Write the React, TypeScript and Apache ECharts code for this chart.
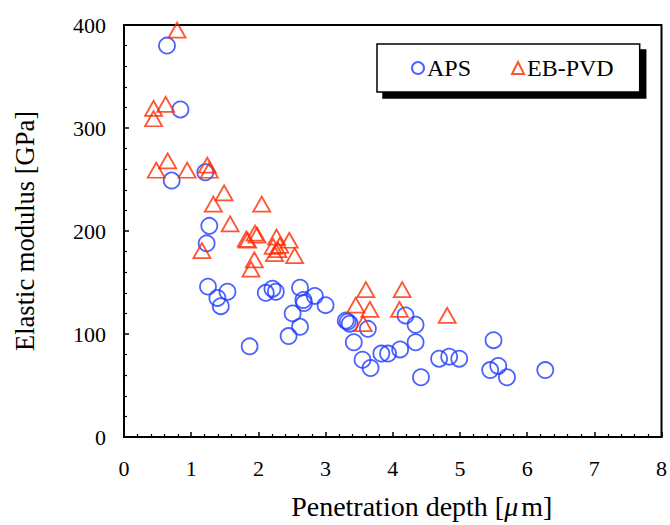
import React, { useEffect, useRef } from "react";
import * as echarts from "echarts";

const apsX = [0.64, 0.84, 0.71, 1.21, 1.27, 1.23, 1.25, 1.39, 1.54, 1.44, 1.87, 2.11, 2.21, 2.26, 2.62, 2.67, 2.68, 2.84, 3.0, 2.51, 2.62, 2.45, 3.3, 3.33, 3.36, 3.42, 3.63, 3.55, 3.67, 3.83, 3.93, 4.11, 4.34, 4.34, 4.19, 4.42, 4.69, 4.84, 4.99, 5.5, 5.45, 5.57, 5.7, 6.27];
const apsY = [380, 318, 249, 257, 205, 188, 146, 135, 141, 127, 88, 140, 144, 141, 145, 133, 130, 137, 128, 120, 107, 98, 113, 112, 110, 92, 105, 75, 67, 81, 81, 85, 92, 109, 118, 58, 76, 78, 76, 94, 65, 69, 58, 65];

const ebX = [0.79, 0.44, 0.62, 0.44, 0.48, 0.65, 0.94, 1.24, 1.27, 1.49, 1.33, 2.05, 1.58, 1.16, 1.82, 1.84, 1.95, 1.98, 1.94, 1.89, 2.27, 2.22, 2.24, 2.32, 2.46, 2.54, 2.29, 3.45, 3.6, 4.14, 3.66, 4.1, 3.56, 4.81];
const ebY = [395, 319, 323, 309, 259, 268, 259, 264, 259, 237, 226, 226, 207, 181, 192, 191, 198, 196, 172, 163, 194, 185, 178, 186, 191, 176, 182, 128, 143, 143, 124, 124, 110, 118];

const xTicks = { min: 0, max: 8, interval: 1 };
const yTicks = { min: 0, max: 400, interval: 100 };

const seriesNames = ["APS", "EB-PVD"];
const FONT = "'Liberation Serif', 'Times New Roman', serif";

export default function App() {
  const ref = useRef<HTMLDivElement>(null);
  useEffect(() => {
    if (!ref.current) return;
    const chart = echarts.init(ref.current, null, { renderer: "svg" });
    const aps = apsX.map((x, i) => [x, apsY[i]]);
    const eb = ebX.map((x, i) => [x, ebY[i]]);
    chart.setOption({
      animation: false,
      backgroundColor: "#fff",
      textStyle: { fontFamily: FONT, color: "#000" },
      grid: {
        left: 124,
        right: 8,
        top: 25,
        bottom: 88,
        show: true,
        borderColor: "#000",
        borderWidth: 2,
        backgroundColor: "transparent",
      },
      legend: {
        left: 377,
        top: 44,
        orient: "horizontal",
        padding: [12, 26, 12, 34],
        itemGap: 40,
        itemWidth: 12,
        itemHeight: 12,
        borderColor: "#000",
        borderWidth: 1.5,
        backgroundColor: "#fff",
        shadowColor: "#000",
        shadowOffsetX: 6,
        shadowOffsetY: 6,
        shadowBlur: 0,
        textStyle: { fontFamily: FONT, fontSize: 24, color: "#000", padding: [4, 0, 0, -2] },
        data: seriesNames,
      },
      xAxis: {
        type: "value",
        min: xTicks.min,
        max: xTicks.max,
        interval: xTicks.interval,
        name: "Penetration depth [{i|\u03bc}m]",
        nameLocation: "middle",
        nameGap: 55,
        nameTextStyle: {
          fontFamily: FONT,
          fontSize: 28,
          color: "#000",
          padding: [0, 0, 0, 58],
          rich: { i: { fontFamily: FONT, fontStyle: "italic", fontSize: 28, padding: [0, 3, 0, 0] } },
        },
        axisLine: { show: true, lineStyle: { color: "#000", width: 2 } },
        axisTick: { show: true, inside: true, length: 5, lineStyle: { color: "#000", width: 1.5 } },
        minorTick: { show: true, splitNumber: 5, length: 3, lineStyle: { color: "#000", width: 1.2 } },
        axisLabel: { fontFamily: FONT, fontSize: 22, color: "#000", margin: 20 },
        splitLine: { show: false },
      },
      yAxis: {
        type: "value",
        min: yTicks.min,
        max: yTicks.max,
        interval: yTicks.interval,
        name: "Elastic modulus [GPa]",
        nameLocation: "middle",
        nameGap: 86,
        nameTextStyle: { fontFamily: FONT, fontSize: 26.5, color: "#000" },
        axisLine: { show: true, lineStyle: { color: "#000", width: 2 } },
        axisTick: { show: true, inside: true, length: 5, lineStyle: { color: "#000", width: 1.5 } },
        minorTick: { show: true, splitNumber: 5, length: 3, lineStyle: { color: "#000", width: 1.2 } },
        axisLabel: { fontFamily: FONT, fontSize: 22, color: "#000", margin: 18 },
        splitLine: { show: false },
      },
      series: [
        {
          name: seriesNames[0],
          type: "scatter",
          symbol: "circle",
          symbolSize: 16,
          data: aps,
          itemStyle: { color: "rgba(0,0,0,0)", borderColor: "#1f3cff", borderWidth: 1.8 },
          z: 3,
        },
        {
          name: seriesNames[1],
          type: "scatter",
          symbol: "triangle",
          symbolSize: [17, 15],
          data: eb,
          itemStyle: { color: "rgba(0,0,0,0)", borderColor: "#ff2a00", borderWidth: 1.8 },
          z: 4,
        },
      ],
    });
    return () => chart.dispose();
  }, []);
  return <div ref={ref} style={{ position: "fixed", left: 0, top: 0, width: 670, height: 525 }} />;
}
